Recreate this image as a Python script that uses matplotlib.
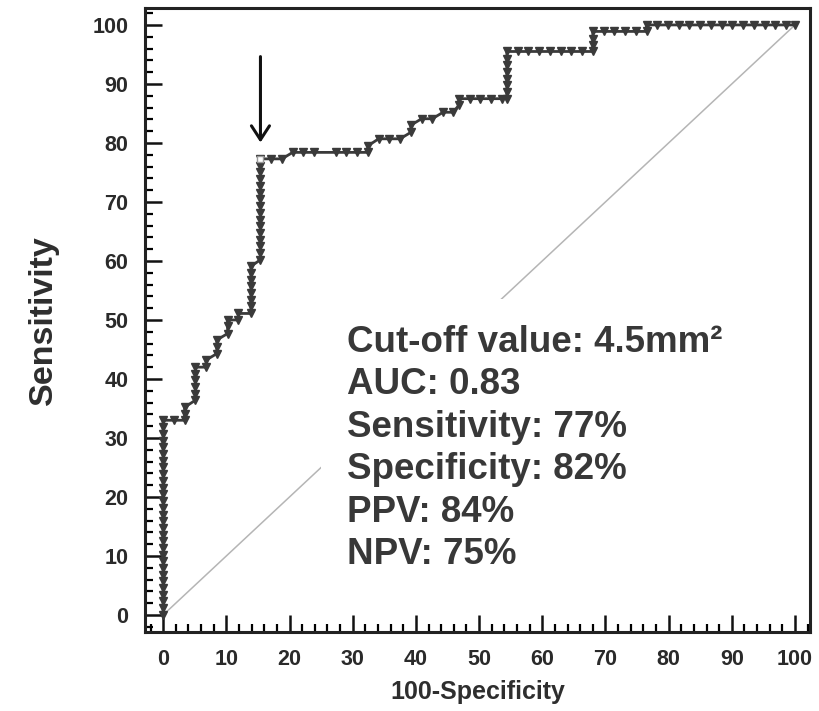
import matplotlib
matplotlib.use("Agg")
import matplotlib.pyplot as plt
from matplotlib.ticker import MultipleLocator

plt.rcParams['font.family'] = ['Liberation Sans', 'DejaVu Sans']

# ROC points (100-specificity, sensitivity)
fpr = [0, 0, 0, 0, 0, 0, 0, 0, 0, 0, 0, 0, 0, 0, 0, 0, 0, 0, 0, 0, 0, 0, 0, 0, 0, 0, 0, 0, 0, 0,
       1.7, 3.4, 3.4, 3.4,
       5.1, 5.1, 5.1, 5.1, 5.1, 5.1, 6.8, 6.8,
       8.5, 8.5, 8.5, 10.2, 10.2, 10.2, 11.9, 11.9,
       13.9, 13.9, 13.9, 13.9, 13.9, 13.9, 13.9, 13.9,
       15.4, 15.4, 15.4, 15.4, 15.4, 15.4, 15.4, 15.4, 15.4, 15.4, 15.4, 15.4, 15.4, 15.4, 15.4, 15.4,
       17.1, 18.8, 20.5, 22.2, 23.9, 27.3, 29.0, 30.7, 32.4,
       32.4, 34.1, 35.8, 37.5, 39.2, 39.2, 40.9, 42.6, 44.3, 45.9, 46.8, 46.8,
       48.5, 50.2, 51.9, 53.6, 54.4,
       54.4, 54.4, 54.4, 54.4, 54.4, 54.4, 54.4,
       56.1, 57.8, 59.5, 61.2, 62.9, 64.6, 66.3, 68.0,
       68.0, 68.0, 68.0,
       69.7, 71.4, 73.1, 74.8, 76.5,
       76.5, 78.2, 79.9, 81.6, 83.3, 85.0, 86.7, 88.4, 90.1, 91.8, 93.5, 95.2, 96.9, 98.6, 100]
tpr = [0, 1.1, 2.3, 3.4, 4.5, 5.7, 6.8, 8.0, 9.1, 10.2, 11.4, 12.5, 13.6, 14.8, 15.9, 17.0, 18.2,
       19.3, 20.5, 21.6, 22.7, 23.9, 25.0, 26.1, 27.3, 28.4, 29.5, 30.7, 31.8, 33.0,
       33.0, 33.0, 34.1, 35.2,
       36.4, 37.5, 38.6, 39.8, 40.9, 42.0, 42.0, 43.2,
       44.3, 45.5, 46.6, 47.7, 48.9, 50.0, 50.0, 51.1,
       51.1, 52.3, 53.4, 54.5, 55.7, 56.8, 58.0, 59.1,
       60.2, 61.4, 62.5, 63.6, 64.8, 65.9, 67.0, 68.2, 69.3, 70.5, 71.6, 72.7, 73.9, 75.0, 76.1, 77.3,
       77.3, 77.3, 78.4, 78.4, 78.4, 78.4, 78.4, 78.4, 78.4,
       79.5, 80.7, 80.7, 80.7, 81.8, 83.0, 84.1, 84.1, 85.2, 85.2, 86.4, 87.5,
       87.5, 87.5, 87.5, 87.5, 87.5,
       88.6, 89.8, 90.9, 92.0, 93.2, 94.3, 95.5,
       95.5, 95.5, 95.5, 95.5, 95.5, 95.5, 95.5, 95.5,
       96.6, 97.7, 98.9,
       98.9, 98.9, 98.9, 98.9, 98.9,
       100, 100, 100, 100, 100, 100, 100, 100, 100, 100, 100, 100, 100, 100, 100]

cutoff_fpr = 15.4
cutoff_tpr = 77.3

stats = ["Cut-off value: 4.5mm\u00b2", "AUC: 0.83", "Sensitivity: 77%",
         "Specificity: 82%", "PPV: 84%", "NPV: 75%"]

ticks = list(range(0, 101, 10))

fig = plt.figure(figsize=(8.2, 7.11), dpi=100)
ax = fig.add_axes([0.177, 0.111, 0.811, 0.878])

ax.plot([0, 100], [0, 100], color='#b5b5b5', lw=1.1, zorder=1)
ax.plot(fpr, tpr, color='#3a3a3a', lw=2, marker='v', ms=6,
        mfc='#3a3a3a', mec='#3a3a3a', zorder=4)
ax.plot([cutoff_fpr], [cutoff_tpr], marker='s', ms=5, mfc='white',
        mec='#9a9a9a', mew=1, zorder=5)

ax.annotate('', xy=(cutoff_fpr, cutoff_tpr + 2.3), xytext=(cutoff_fpr, cutoff_tpr + 17.8),
            arrowprops=dict(arrowstyle='->,head_length=1.0,head_width=0.65',
                            color='#111111', lw=2.2))

ax.text(29.1, 49.2, "\n".join(stats), fontsize=26.5, fontweight='bold',
        color='#383838', va='top', ha='left', linespacing=1.28, zorder=3,
        bbox=dict(boxstyle='square,pad=0.7', fc='white', ec='none'))

ax.set_xlim(-2.85, 102.4)
ax.set_ylim(-2.9, 102.9)
ax.set_xticks(ticks)
ax.set_yticks(ticks)
ax.xaxis.set_minor_locator(MultipleLocator(2))
ax.yaxis.set_minor_locator(MultipleLocator(2))
ax.tick_params(which='major', direction='in', length=12, width=1.8, pad=12,
               labelsize=15.5, colors='#111111')
ax.tick_params(which='minor', direction='in', length=6, width=1.6)
for lab in ax.get_xticklabels() + ax.get_yticklabels():
    lab.set_fontweight('bold')
    lab.set_color('#2a2a2a')

for s in ax.spines.values():
    s.set_linewidth(2.2)
    s.set_color('#222222')

ax.set_xlabel('100-Specificity', fontsize=18, fontweight='bold', color='#2e2e2e')
ax.set_ylabel('Sensitivity', fontsize=24.5, fontweight='bold', color='#2e2e2e')
ax.xaxis.set_label_coords(0.5, -0.076)
ax.yaxis.set_label_coords(-0.13, 0.5)

fig.savefig('out.png', dpi=100)
